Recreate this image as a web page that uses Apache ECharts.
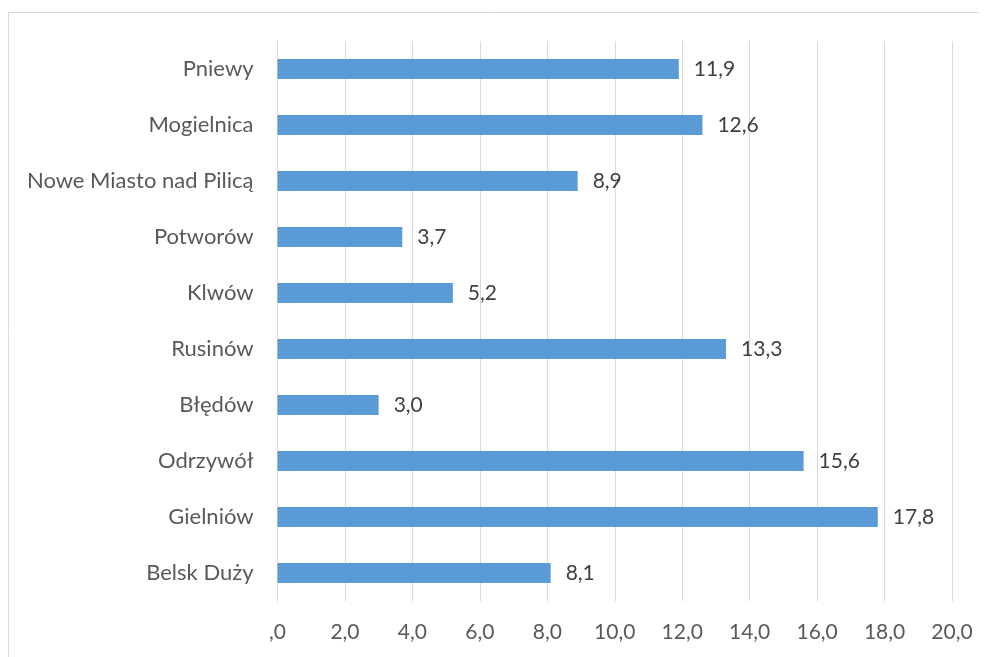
<!DOCTYPE html>
<html><head><meta charset="utf-8">
<script src="https://cdn.jsdelivr.net/npm/echarts@6/dist/echarts.min.js"></script>
<style>html,body{margin:0;padding:0;background:#fff}#c{width:989px;height:657px}</style>
</head><body><div id="c"></div>
<script>
const categories = ['Belsk Duży','Gielniów','Odrzywół','Błędów','Rusinów','Klwów','Potworów','Nowe Miasto nad Pilicą','Mogielnica','Pniewy'];
const values = [8.1, 17.8, 15.6, 3.0, 13.3, 5.2, 3.7, 8.9, 12.6, 11.9];
const xTicks = [0,2,4,6,8,10,12,14,16,18,20];

function fmt(v){ return v === 0 ? ',0' : Number(v).toFixed(1).replace('.', ','); }
const chart = echarts.init(document.getElementById('c'));
const font = 'Lato, "Open Sans", sans-serif';
chart.setOption({
  animation:false,
  textStyle:{fontFamily:font},
  graphic:[
    {type:'line',shape:{x1:8,y1:12.5,x2:979,y2:12.5},style:{stroke:'#d9d9d9',lineWidth:1},silent:true},
    {type:'line',shape:{x1:8.5,y1:12,x2:8.5,y2:657},style:{stroke:'#d9d9d9',lineWidth:1},silent:true}
  ],
  grid:{left:277.5,right:37,top:41,bottom:56,containLabel:false},
  xAxis:{type:'value',min:xTicks[0],max:xTicks[xTicks.length-1],interval:2,
    axisLine:{show:false},axisTick:{show:false},
    splitLine:{show:true,lineStyle:{color:'#d9d9d9',width:1}},
    axisLabel:{formatter:fmt,color:'#595959',fontSize:21,margin:21,fontFamily:font}},
  yAxis:{type:'category',data:categories,
    axisLine:{show:true,lineStyle:{color:'#d9d9d9',width:1}},axisTick:{show:false},
    axisLabel:{color:'#595959',fontSize:22,margin:24,fontFamily:font}},
  series:[{type:'bar',data:values,barWidth:20,itemStyle:{color:'#5b9bd5'},
    label:{show:true,position:'right',distance:15,color:'#404040',fontSize:21,fontFamily:font,formatter:p=>fmt(p.value)}}]
});
</script></body></html>
